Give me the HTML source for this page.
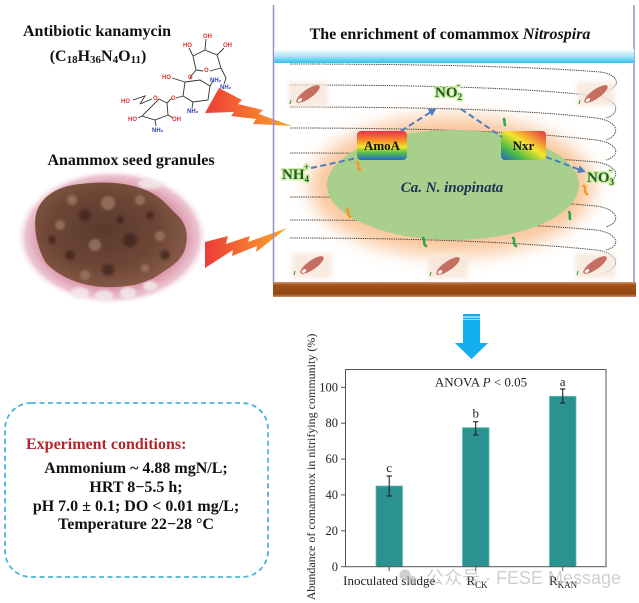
<!DOCTYPE html>
<html><head><meta charset="utf-8"><style>
html,body{margin:0;padding:0;background:#fff;}
svg{display:block;}
.serif{font-family:"Liberation Serif","Noto Serif CJK SC",serif;}
</style></head><body>
<svg width="639" height="603" viewBox="0 0 639 603" xmlns="http://www.w3.org/2000/svg" class="serif" font-family="Liberation Serif, serif">
<defs>
 <linearGradient id="bolt" x1="0" y1="0" x2="1" y2="0">
  <stop offset="0" stop-color="#ee3b38"/><stop offset="1" stop-color="#f9a82a"/>
 </linearGradient>
 <linearGradient id="band" x1="0" y1="0" x2="0" y2="1">
  <stop offset="0" stop-color="#ffffff"/><stop offset="0.5" stop-color="#aee6f8"/><stop offset="1" stop-color="#2fc0f0"/>
 </linearGradient>
 <linearGradient id="amoa" x1="0" y1="0" x2="0" y2="1">
  <stop offset="0" stop-color="#e8304e"/><stop offset="0.3" stop-color="#f5862a"/><stop offset="0.55" stop-color="#f4e42c"/><stop offset="0.75" stop-color="#56c04a"/><stop offset="1" stop-color="#2a66d2"/>
 </linearGradient>
 <linearGradient id="nxr" x1="1" y1="0" x2="0" y2="1">
  <stop offset="0" stop-color="#e82c44"/><stop offset="0.45" stop-color="#f6e52e"/><stop offset="0.75" stop-color="#45b84a"/><stop offset="1" stop-color="#2a5ed2"/>
 </linearGradient>
 <linearGradient id="brown" x1="0" y1="0" x2="0" y2="1">
  <stop offset="0" stop-color="#d09a6a"/><stop offset="0.2" stop-color="#a0521a"/><stop offset="0.8" stop-color="#94460f"/><stop offset="1" stop-color="#c89068"/>
 </linearGradient>
 <radialGradient id="photo" cx="0.5" cy="0.5" r="0.5">
  <stop offset="0" stop-color="#c06a80"/><stop offset="0.7" stop-color="#d6889e"/><stop offset="0.9" stop-color="#ecc4d0"/><stop offset="1" stop-color="#ffffff" stop-opacity="0"/>
 </radialGradient>
 <radialGradient id="mud" cx="0.45" cy="0.45" r="0.6">
  <stop offset="0" stop-color="#5a3a2e"/><stop offset="0.6" stop-color="#6e4636"/><stop offset="1" stop-color="#8a5c4a"/>
 </radialGradient>
 <filter id="blur8" x="-30%" y="-30%" width="160%" height="160%"><feGaussianBlur stdDeviation="9"/></filter>
 <filter id="blur2" x="-30%" y="-30%" width="160%" height="160%"><feGaussianBlur stdDeviation="2"/></filter>
 <filter id="blur1" x="-30%" y="-30%" width="160%" height="160%"><feGaussianBlur stdDeviation="1.2"/></filter>
 <marker id="ah" markerWidth="8" markerHeight="8" refX="5" refY="4" orient="auto" markerUnits="userSpaceOnUse">
  <path d="M0,0 L8,4 L0,8 z" fill="#4d7cc0"/>
 </marker>
</defs>

<rect width="639" height="603" fill="#fff"/>

<!-- ============ LEFT TOP: kanamycin ============ -->
<text x="97" y="36" font-size="16" font-weight="bold" text-anchor="middle" fill="#111">Antibiotic kanamycin</text>
<text x="98" y="61" font-size="16" font-weight="bold" text-anchor="middle" fill="#111">(C<tspan font-size="11" dy="2">18</tspan><tspan dy="-2">H</tspan><tspan font-size="11" dy="2">36</tspan><tspan dy="-2">N</tspan><tspan font-size="11" dy="2">4</tspan><tspan dy="-2">O</tspan><tspan font-size="11" dy="2">11</tspan><tspan dy="-2">)</tspan></text>

<g stroke="#333" stroke-width="0.9" fill="none">
 <path d="M193,56 L205,50 L217,55 L221,68 L210,71 M203,71 L196,70 L193,56"/>
 <path d="M205,50 L206,39 M193,56 L189,48 M217,55 L224,48 M221,68 L226,78 L224,84 M196,70 L191,76"/>
 <path d="M185,82 L200,80 L210,86 L208,100 L193,102 L183,96 Z"/>
 <path d="M190,79 L191,76 M185,82 L172,78 M210,86 L213,81 M183,96 L176,98 M193,102 L192,108"/>
 <path d="M140,104 L152,99 M159,99 L167,103 L168,115 L155,120 L142,116 Z"/>
 <path d="M140,104 L145,96 L133,100 M142,116 L138,118 M168,115 L173,118 M155,120 L156,126 M167,103 L172,98"/>
</g>
<g style="font-family:'Liberation Sans',sans-serif" font-size="6" font-weight="bold">
 <text x="203" y="38" fill="#e03434">OH</text>
 <text x="183" y="47" fill="#e03434">HO</text>
 <text x="223" y="47" fill="#e03434">OH</text>
 <text x="204" y="72" fill="#e03434">O</text>
 <text x="188" y="79" fill="#e03434">O</text>
 <text x="220" y="89" fill="#3040c0">NH₂</text>
 <text x="162" y="79" fill="#e03434">HO</text>
 <text x="210" y="82" fill="#3040c0">NH₂</text>
 <text x="171" y="100" fill="#e03434">O</text>
 <text x="187" y="113" fill="#3040c0">NH₂</text>
 <text x="153" y="100" fill="#e03434">O</text>
 <text x="121" y="103" fill="#e03434">HO</text>
 <text x="128" y="121" fill="#e03434">HO</text>
 <text x="172" y="121" fill="#e03434">OH</text>
 <text x="152" y="132" fill="#3040c0">NH₂</text>
</g>

<polygon points="205,113 219,88 242,100 238,104 263,110 259,114 292,126 253,124 256,119 231,116 234,112" fill="url(#bolt)"/>

<!-- ============ Anammox photo ============ -->
<text x="131" y="165" font-size="16" font-weight="bold" text-anchor="middle" fill="#111">Anammox seed granules</text>
<ellipse cx="112" cy="237" rx="96" ry="68" fill="url(#photo)"/>
<g fill="#f4e8ea" opacity="0.85" filter="url(#blur1)">
 <ellipse cx="80" cy="293" rx="9" ry="6"/><ellipse cx="104" cy="296" rx="9" ry="6"/><ellipse cx="128" cy="293" rx="8" ry="6"/><ellipse cx="150" cy="286" rx="7" ry="5"/>
 <ellipse cx="150" cy="184" rx="12" ry="5"/>
</g>
<path d="M36,214 C40,198 56,186 80,184 C104,181 130,182 150,192 C162,198 168,206 176,214 C186,222 190,236 184,252 C178,264 168,268 160,274 C146,284 126,288 104,287 C80,286 58,276 46,263 C38,250 33,230 36,214 Z" fill="url(#mud)"/>
<g fill="#3a241c" opacity="0.7" filter="url(#blur1)">
 <circle cx="85" cy="215" r="6"/><circle cx="130" cy="240" r="7"/><circle cx="70" cy="255" r="5"/>
 <circle cx="150" cy="215" r="4"/><circle cx="108" cy="270" r="6"/><circle cx="165" cy="255" r="5"/>
 <circle cx="120" cy="220" r="4"/><circle cx="52" cy="240" r="4"/>
</g>
<g fill="#a07a66" opacity="0.75" filter="url(#blur1)">
 <circle cx="60" cy="225" r="5"/><circle cx="108" cy="203" r="7"/><circle cx="145" cy="268" r="4"/><circle cx="95" cy="245" r="6"/>
 <circle cx="72" cy="200" r="5"/><circle cx="140" cy="200" r="5"/><circle cx="160" cy="236" r="5"/><circle cx="85" cy="275" r="5"/>
</g>
<polygon points="205,242 228,236 226,244 250,236 248,242 287,228 256,252 257,246 232,256 233,250 205,268" fill="url(#bolt)"/>

<!-- ============ Right panel ============ -->
<line x1="273.5" y1="5" x2="273.5" y2="284" stroke="#9a8fc8" stroke-width="1.5"/>
<line x1="634" y1="5" x2="634" y2="284" stroke="#9a8fc8" stroke-width="1.5"/>
<text x="450" y="39" font-size="16" font-weight="bold" text-anchor="middle" fill="#111">The enrichment of comammox <tspan font-style="italic">Nitrospira</tspan></text>
<rect x="274" y="49" width="360" height="14" fill="url(#band)"/>

<ellipse cx="452" cy="186" rx="142" ry="70" fill="#f8b47c" opacity="0.75" filter="url(#blur8)"/>

<g fill="none" stroke="#444" stroke-width="1" stroke-dasharray="1.3 0.9">
 <path d="M290,64 C430,64 540,67 600,72 C618,74 622,86 608,90"/>
 <path d="M290,85 C430,85 530,88 596,96 C618,99 622,113 606,118"/>
 <path d="M290,107 C430,107 530,110 596,118 C618,121 622,134 606,140"/>
 <path d="M290,128 C430,128 530,132 596,140 C618,143 622,155 606,160"/>
 <path d="M290,153 C430,153 530,156 596,162 C618,165 622,178 606,182"/>
 <path d="M290,197 C430,197 530,200 596,206 C618,209 622,222 606,227"/>
 <path d="M290,220 C430,220 530,224 596,230 C618,233 622,246 606,250"/>
 <path d="M290,238 C430,238 530,243 596,250 C618,253 622,266 606,272"/>
</g>

<ellipse cx="453" cy="185" rx="126" ry="55" fill="#a8cf8c"/>

<g>
 <rect x="288" y="82" width="40" height="25" fill="#f7e6d8" opacity="0.8" filter="url(#blur2)"/>
 <ellipse cx="308" cy="94" rx="14" ry="4.5" fill="#c76e62" transform="rotate(-35 308 94)"/>
 <ellipse cx="300" cy="100" rx="2.5" ry="1.5" fill="#fff" transform="rotate(-35 300 100)"/>
 <rect x="577" y="82" width="38" height="24" fill="#f7e6d8" opacity="0.8" filter="url(#blur2)"/>
 <ellipse cx="596" cy="94" rx="14" ry="4.5" fill="#c76e62" transform="rotate(-35 596 94)"/>
 <ellipse cx="588" cy="100" rx="2.5" ry="1.5" fill="#fff" transform="rotate(-35 588 100)"/>
 <rect x="292" y="253" width="40" height="25" fill="#f7e6d8" opacity="0.8" filter="url(#blur2)"/>
 <ellipse cx="312" cy="265" rx="14" ry="4.5" fill="#c76e62" transform="rotate(-35 312 265)"/>
 <ellipse cx="304" cy="271" rx="2.5" ry="1.5" fill="#fff" transform="rotate(-35 304 271)"/>
 <rect x="428" y="253" width="40" height="26" fill="#f7e6d8" opacity="0.8" filter="url(#blur2)"/>
 <ellipse cx="448" cy="266" rx="14" ry="4.5" fill="#c76e62" transform="rotate(-35 448 266)"/>
 <ellipse cx="440" cy="272" rx="2.5" ry="1.5" fill="#fff" transform="rotate(-35 440 272)"/>
 <rect x="575" y="253" width="40" height="25" fill="#f7e6d8" opacity="0.8" filter="url(#blur2)"/>
 <ellipse cx="595" cy="265" rx="14" ry="4.5" fill="#c76e62" transform="rotate(-35 595 265)"/>
 <ellipse cx="587" cy="271" rx="2.5" ry="1.5" fill="#fff" transform="rotate(-35 587 271)"/>
</g>
<g stroke="#4aa84a" stroke-width="1.2" fill="none">
 <path d="M290,104 l1,-4"/><path d="M579,104 l1,-4"/><path d="M294,275 l1,-4"/><path d="M430,276 l1,-4"/><path d="M577,275 l1,-4"/>
</g>

<g fill="none" stroke-width="2.6" stroke-linecap="round">
 <path d="M357,162 c3,2 -1,5 3,8" stroke="#f39a2a"/>
 <path d="M347,209 c3,2 -1,5 3,8" stroke="#f39a2a"/>
 <path d="M584,186 c3,2 -1,5 3,8" stroke="#f39a2a"/>
 <path d="M423,238 c3,2 -1,5 3,8" stroke="#2aa84a"/>
 <path d="M513,238 c3,2 -1,5 3,8" stroke="#2aa84a"/>
 <path d="M569,212 c2,2 0,5 1,7" stroke="#2aa84a"/>
 <path d="M504,119 c1,2 0,4 1,6" stroke="#2aa84a"/>
</g>

<rect x="357" y="131" width="50" height="29" rx="4" fill="url(#amoa)"/>
<text x="382" y="150" font-size="13" font-weight="bold" text-anchor="middle" fill="#111">AmoA</text>
<rect x="501" y="131" width="45" height="29" rx="4" fill="url(#nxr)"/>
<text x="523.5" y="150" font-size="13" font-weight="bold" text-anchor="middle" fill="#111">Nxr</text>

<g stroke="#4d7cc0" stroke-width="2" stroke-dasharray="6 3.5" fill="none">
 <path d="M311,168 L357,158"/>
 <path d="M401,131 L434,110" marker-end="url(#ah)"/>
 <path d="M461,109 L502,137"/>
 <path d="M546,157 L583,171" marker-end="url(#ah)"/>
</g>

<g font-size="15" font-weight="bold" fill="#1f5a1e" stroke="#cdeea8" stroke-width="3" paint-order="stroke" stroke-linejoin="round">
 <text x="435" y="97">NO<tspan font-size="9" dy="3">2</tspan></text>
 <text x="457" y="88" font-size="9">-</text>
 <text x="282" y="179">NH<tspan font-size="9" dy="3">4</tspan></text>
 <text x="304" y="170" font-size="9">+</text>
 <text x="587" y="182">NO<tspan font-size="9" dy="3">3</tspan></text>
 <text x="609" y="173" font-size="9">-</text>
</g>
<text x="452" y="192" font-size="15" font-weight="bold" font-style="italic" text-anchor="middle" fill="#1e2d5a">Ca. N. inopinata</text>

<rect x="273" y="282" width="363" height="15" fill="url(#brown)"/>

<!-- ============ Blue arrow ============ -->
<path d="M463,314 H480 V343 H488 L471.5,359 L455,343 H463 Z" fill="#13aef0"/>
<line x1="463" y1="317" x2="480" y2="317" stroke="#fff" stroke-width="1"/>
<line x1="463" y1="319.5" x2="480" y2="319.5" stroke="#bfe9fb" stroke-width="0.8"/>

<!-- ============ Experiment box ============ -->
<rect x="5" y="403" width="263" height="174" rx="26" fill="none" stroke="#4bb4de" stroke-width="1.8" stroke-dasharray="5 3.5"/>
<text x="26" y="449" font-size="16" font-weight="bold" fill="#b3262c">Experiment conditions:</text>
<g font-size="16" font-weight="bold" text-anchor="middle" fill="#111">
 <text x="136" y="473">Ammonium ~ 4.88 mgN/L;</text>
 <text x="136" y="492">HRT 8−5.5 h;</text>
 <text x="136" y="511">pH 7.0 ± 0.1; DO &lt; 0.01 mg/L;</text>
 <text x="136" y="529">Temperature 22−28 °C</text>
</g>

<!-- ============ Bar chart ============ -->
<g>
 <rect x="376" y="486" width="26.5" height="80.7" fill="#2a938f" stroke="#5cbdb8" stroke-width="0.8"/>
 <rect x="462.5" y="427.7" width="26.5" height="139" fill="#2a938f" stroke="#5cbdb8" stroke-width="0.8"/>
 <rect x="549.5" y="396.3" width="26.5" height="170.4" fill="#2a938f" stroke="#5cbdb8" stroke-width="0.8"/>
</g>
<g stroke="#222" stroke-width="1.1">
 <line x1="389.2" y1="476" x2="389.2" y2="496"/><line x1="386.5" y1="476" x2="392" y2="476"/><line x1="386.5" y1="496" x2="392" y2="496"/>
 <line x1="475.7" y1="421.7" x2="475.7" y2="435"/><line x1="473" y1="421.7" x2="478.4" y2="421.7"/><line x1="473" y1="435" x2="478.4" y2="435"/>
 <line x1="562.7" y1="389" x2="562.7" y2="403"/><line x1="560" y1="389" x2="565.4" y2="389"/><line x1="560" y1="403" x2="565.4" y2="403"/>
</g>
<rect x="345.5" y="369.5" width="260.5" height="197.2" fill="none" stroke="#555" stroke-width="1"/>
<g stroke="#555" stroke-width="1">
 <line x1="341" y1="566.7" x2="345.5" y2="566.7"/>
 <line x1="341" y1="530.8" x2="345.5" y2="530.8"/>
 <line x1="341" y1="494.9" x2="345.5" y2="494.9"/>
 <line x1="341" y1="459.1" x2="345.5" y2="459.1"/>
 <line x1="341" y1="423.2" x2="345.5" y2="423.2"/>
 <line x1="341" y1="387.3" x2="345.5" y2="387.3"/>
 <line x1="389.2" y1="566.7" x2="389.2" y2="571"/>
 <line x1="475.7" y1="566.7" x2="475.7" y2="571"/>
 <line x1="562.7" y1="566.7" x2="562.7" y2="571"/>
</g>
<g font-size="12.5" text-anchor="end" fill="#222">
 <text x="338" y="571">0</text>
 <text x="338" y="535">20</text>
 <text x="338" y="499">40</text>
 <text x="338" y="463">60</text>
 <text x="338" y="427">80</text>
 <text x="338" y="391.5">100</text>
</g>
<text transform="translate(315,467) rotate(-90)" font-size="12" text-anchor="middle" fill="#222">Abundance of comammox in nitrifying community (%)</text>
<text x="481" y="386.5" font-size="13" text-anchor="middle" fill="#222">ANOVA <tspan font-style="italic">P</tspan> &lt; 0.05</text>
<g font-size="13" text-anchor="middle" fill="#222">
 <text x="389.2" y="472">c</text>
 <text x="475.7" y="417.5">b</text>
 <text x="562.7" y="386">a</text>
</g>
<g font-size="13" fill="#222">
 <text x="389.2" y="585" text-anchor="middle">Inoculated sludge</text>
 <text x="466.5" y="585">R<tspan font-size="9" dy="3">CK</tspan></text>
 <text x="549" y="585">R<tspan font-size="9" dy="3">KAN</tspan></text>
</g>

<!-- watermark -->
<g opacity="0.55" fill="#a8a8a8">
 <circle cx="405" cy="575" r="5.5"/><circle cx="412" cy="580" r="4.5"/>
 <text x="426" y="584" font-size="18" style="font-family:'Liberation Sans','Noto Sans CJK SC',sans-serif">公众号 · FESE Message</text>
</g>
</svg>
</body></html>
